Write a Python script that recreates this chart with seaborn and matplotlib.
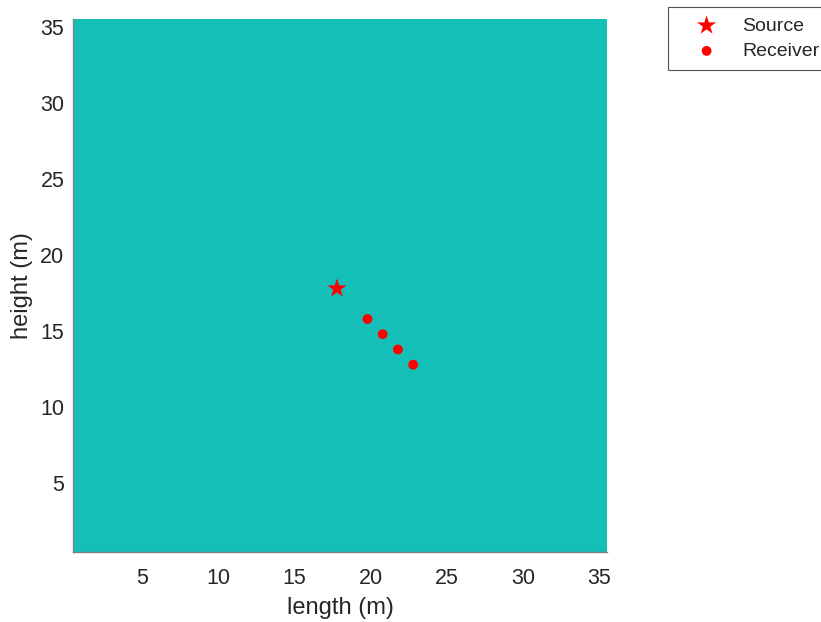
import numpy as np
import seaborn as sns
import matplotlib.pyplot as plt

# room grid (35 x 35 cells, one material everywhere)
grid_n = 35
field = np.ones((grid_n, grid_n))

source_x = [17.8]
source_y = [17.8]
receiver_x = [19.8, 20.8, 21.8, 22.8]
receiver_y = [15.8, 14.8, 13.8, 12.8]

xticks = [5, 10, 15, 20, 25, 30, 35]
yticks = [5, 10, 15, 20, 25, 30, 35]

sns.set_style("white")
plt.rcParams['font.family'] = ['Liberation Sans', 'DejaVu Sans']

fig = plt.figure(figsize=(8.21, 6.22), dpi=100)
ax = fig.add_axes([0.0893, 0.1125, 0.6497, 0.857])

teal = sns.blend_palette(["#14bfb8", "#14bfb8"], as_cmap=True)
ax.imshow(field, cmap=teal, extent=(0.5, grid_n + 0.5, 0.5, grid_n + 0.5),
          origin='lower', aspect='auto', interpolation='nearest')

sns.scatterplot(x=source_x, y=source_y, marker='*', s=210, color='red',
                edgecolor='none', linewidth=0, label='Source', ax=ax)
sns.scatterplot(x=receiver_x, y=receiver_y, marker='o', s=50, color='red',
                edgecolor='none', linewidth=0, label='Receiver', ax=ax)

ax.set_xlim(0.5, 35.5)
ax.set_ylim(0.5, 35.5)
ax.set_xticks(xticks)
ax.set_yticks(yticks)
ax.tick_params(axis='both', length=0, labelsize=15.5, colors='#262626')
ax.tick_params(axis='x', pad=11.5)
ax.tick_params(axis='y', pad=6.5)
ax.set_xlabel('length (m)', fontsize=17, color='#262626', labelpad=6)
ax.set_ylabel('height (m)', fontsize=17, color='#262626', labelpad=5)

for side in ['top', 'right']:
    ax.spines[side].set_visible(False)
for side in ['left', 'bottom']:
    ax.spines[side].set_color('#808080')
    ax.spines[side].set_linewidth(1.0)

handles, labels = ax.get_legend_handles_labels()
ax.get_legend().remove()
leg = fig.legend(handles, labels, loc='upper left',
                 bbox_to_anchor=(0.8133, 0.9883), borderaxespad=0,
                 fontsize=14, frameon=True, fancybox=False,
                 edgecolor='#262626', handletextpad=0.32, handlelength=3.0,
                 labelspacing=0.4, borderpad=0.5)
leg.get_frame().set_linewidth(0.8)

plt.savefig('out.png', dpi=100)
